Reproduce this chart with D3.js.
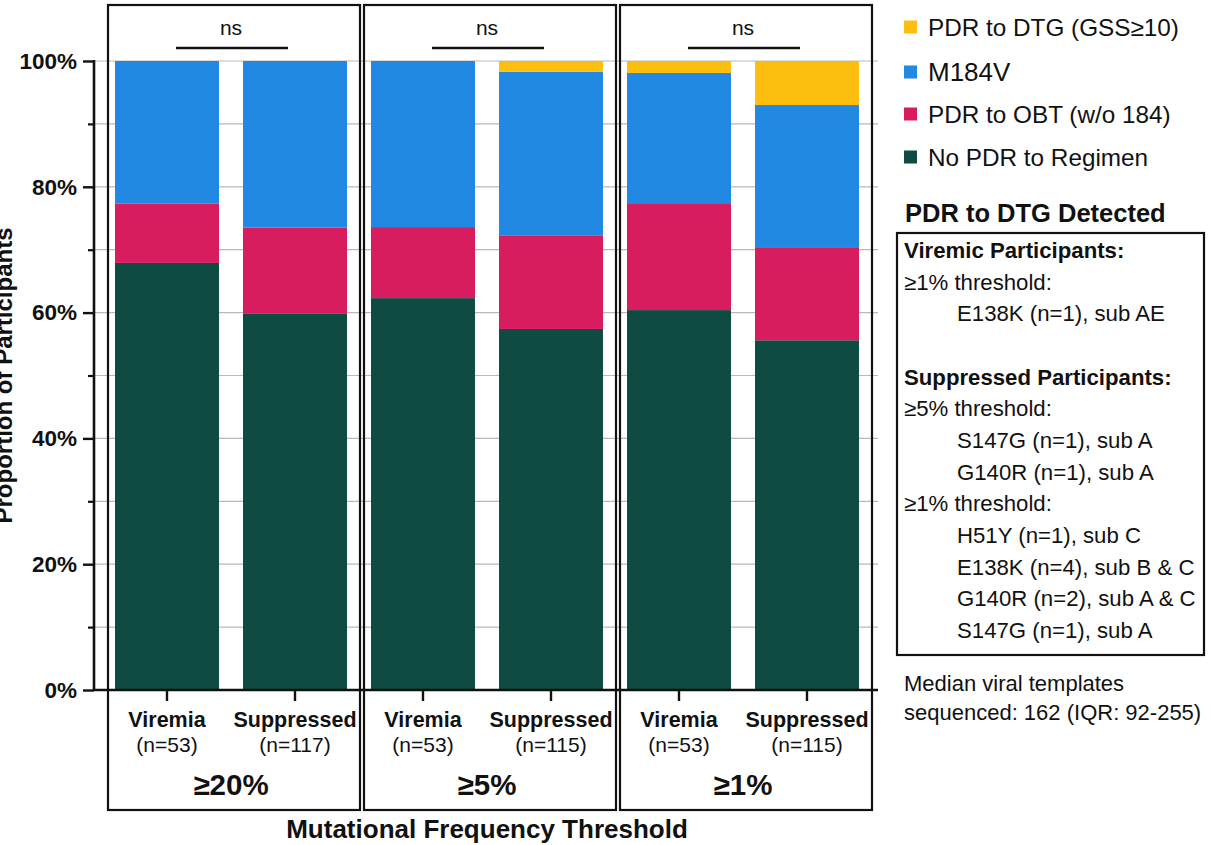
<!DOCTYPE html>
<html>
<head>
<meta charset="utf-8">
<script src="https://cdn.jsdelivr.net/npm/d3@7"></script>
<style>
  html, body { margin: 0; padding: 0; background: #fff; }
  svg { display: block; font-family: "Liberation Sans", Arial, Helvetica, sans-serif; }
</style>
</head>
<body>
<svg id="chart" width="1211" height="845"></svg>
<script>
// Bars: one per participant group within each mutational frequency threshold
const barIds = ["v20", "s20", "v5", "s5", "v1", "s1"];
const statusLabels = ["Viremia", "Suppressed", "Viremia", "Suppressed", "Viremia", "Suppressed"];
const sampleSizes = [53, 117, 53, 115, 53, 115];
const thresholds = ["≥20%", "≥5%", "≥1%"];
const significance = ["ns", "ns", "ns"];

// Percent of participants in each resistance category (stacked bottom → top)
const noPdr  = [67.9, 59.8, 62.3, 57.4, 60.4, 55.6];
const pdrObt = [ 9.4, 13.7, 11.3, 14.8, 17.0, 14.8];
const m184v  = [22.7, 26.5, 26.4, 26.1, 20.7, 22.6];
const pdrDtg = [ 0.0,  0.0,  0.0,  1.7,  1.9,  7.0];

const seriesKeys   = ["noPdr", "pdrObt", "m184v", "pdrDtg"];
const seriesNames  = ["No PDR to Regimen", "PDR to OBT (w/o 184)", "M184V", "PDR to DTG (GSS≥10)"];
const seriesColors = ["#0e4c41", "#d81c60", "#2189e2", "#fdbe10"];

const yTicks = [0, 20, 40, 60, 80, 100];
const yMinorTicks = [10, 30, 50, 70, 90];

// Table of DTG resistance mutations listed beside the chart
const dtgLines = [
  { text: "Viremic Participants:", bold: true, indent: false },
  { text: "≥1% threshold:", bold: false, indent: false },
  { text: "E138K (n=1), sub AE", bold: false, indent: true },
  { text: "", bold: false, indent: false },
  { text: "Suppressed Participants:", bold: true, indent: false },
  { text: "≥5% threshold:", bold: false, indent: false },
  { text: "S147G (n=1), sub A", bold: false, indent: true },
  { text: "G140R (n=1), sub A", bold: false, indent: true },
  { text: "≥1% threshold:", bold: false, indent: false },
  { text: "H51Y (n=1), sub C", bold: false, indent: true },
  { text: "E138K (n=4), sub B & C", bold: false, indent: true },
  { text: "G140R (n=2), sub A & C", bold: false, indent: true },
  { text: "S147G (n=1), sub A", bold: false, indent: true }
];
const footnote = ["Median viral templates", "sequenced: 162 (IQR: 92-255)"];

// ---- build table for the stack layout ----
const rows = barIds.map((id, i) => ({
  id, noPdr: noPdr[i], pdrObt: pdrObt[i], m184v: m184v[i], pdrDtg: pdrDtg[i]
}));
const stacked = d3.stack().keys(seriesKeys)(rows);

const svg = d3.select("#chart");

const x = d3.scaleBand().domain(barIds).range([103, 871])
  .paddingInner(0.1875).paddingOuter(0.09375);
const y = d3.scaleLinear().domain([0, 100]).range([690, 61]);
const axisLeftX = 94;
const boxTop = 5, boxBottom = 810;

// grid lines every 10%
svg.append("g")
  .selectAll("line")
  .data(d3.range(10, 101, 10))
  .join("line")
  .attr("x1", axisLeftX).attr("x2", 878)
  .attr("y1", d => y(d)).attr("y2", d => y(d))
  .attr("stroke", "#b9b9b9").attr("stroke-width", 1.2);

// stacked bars
svg.append("g")
  .selectAll("g")
  .data(stacked)
  .join("g")
  .attr("fill", (d, i) => seriesColors[i])
  .selectAll("rect")
  .data(d => d)
  .join("rect")
  .attr("x", d => x(d.data.id))
  .attr("width", x.bandwidth())
  .attr("y", d => y(d[1]))
  .attr("height", d => Math.max(0, y(d[0]) - y(d[1])));

// panel frames, one per threshold
const panelCenter = k => (x(barIds[2 * k]) + x(barIds[2 * k + 1]) + x.bandwidth()) / 2;
thresholds.forEach((t, k) => {
  const left = x(barIds[2 * k]) - 7;
  const right = x(barIds[2 * k + 1]) + x.bandwidth() + 13;
  svg.append("rect")
    .attr("x", left).attr("y", boxTop)
    .attr("width", right - left).attr("height", boxBottom - boxTop)
    .attr("fill", "none").attr("stroke", "#111").attr("stroke-width", 2.2);
});

// y axis
const yAxis = svg.append("g")
  .attr("transform", `translate(${axisLeftX},0)`)
  .call(d3.axisLeft(y).tickValues(yTicks).tickSize(11).tickPadding(6).tickFormat(d => d + "%"));
yAxis.select(".domain").remove();
yAxis.selectAll(".tick line").attr("stroke", "#111").attr("stroke-width", 2.4);
yAxis.selectAll(".tick text")
  .attr("font-size", 22.5).attr("font-weight", "bold").attr("fill", "#111")
  .attr("font-family", "'Liberation Sans', Arial, sans-serif");

const yMinor = svg.append("g")
  .attr("transform", `translate(${axisLeftX},0)`)
  .call(d3.axisLeft(y).tickValues(yMinorTicks).tickSize(6).tickFormat(""));
yMinor.select(".domain").remove();
yMinor.selectAll(".tick line").attr("stroke", "#111").attr("stroke-width", 2.2);

svg.append("line")
  .attr("x1", axisLeftX).attr("x2", axisLeftX)
  .attr("y1", y(100) - 1).attr("y2", y(0))
  .attr("stroke", "#111").attr("stroke-width", 2.6);

// x axis
const xAxis = svg.append("g")
  .attr("transform", `translate(0,${y(0)})`)
  .call(d3.axisBottom(x).tickSize(11).tickSizeOuter(0).tickFormat(""));
xAxis.select(".domain").remove();
xAxis.selectAll(".tick line").attr("stroke", "#111").attr("stroke-width", 2.4);
svg.append("line")
  .attr("x1", axisLeftX - 1).attr("x2", 878)
  .attr("y1", y(0)).attr("y2", y(0))
  .attr("stroke", "#111").attr("stroke-width", 2.6);

// category labels under each bar
const catG = svg.append("g").attr("text-anchor", "middle").attr("fill", "#111");
catG.selectAll("text.status")
  .data(barIds)
  .join("text")
  .attr("class", "status")
  .attr("x", d => x(d) + x.bandwidth() / 2)
  .attr("y", 727)
  .attr("font-size", 21.5).attr("font-weight", "bold")
  .text((d, i) => statusLabels[i]);
catG.selectAll("text.n")
  .data(barIds)
  .join("text")
  .attr("class", "n")
  .attr("x", d => x(d) + x.bandwidth() / 2)
  .attr("y", 752)
  .attr("font-size", 21)
  .text((d, i) => `(n=${sampleSizes[i]})`);

// threshold labels
catG.selectAll("text.thr")
  .data(thresholds)
  .join("text")
  .attr("class", "thr")
  .attr("x", (d, k) => panelCenter(k))
  .attr("y", 795)
  .attr("font-size", 29.5).attr("font-weight", "bold")
  .text(d => d);

// significance brackets
thresholds.forEach((t, k) => {
  const c1 = x(barIds[2 * k]) + x.bandwidth() / 2;
  const c2 = x(barIds[2 * k + 1]) + x.bandwidth() / 2;
  svg.append("line")
    .attr("x1", c1 + 9).attr("x2", c2 - 7)
    .attr("y1", 48).attr("y2", 48)
    .attr("stroke", "#111").attr("stroke-width", 2.6);
  svg.append("text")
    .attr("x", panelCenter(k)).attr("y", 35)
    .attr("text-anchor", "middle").attr("font-size", 21).attr("fill", "#111")
    .text(significance[k]);
});

// axis titles
svg.append("text")
  .attr("x", (x.range()[0] + x.range()[1]) / 2).attr("y", 838)
  .attr("text-anchor", "middle").attr("font-size", 26).attr("font-weight", "bold").attr("fill", "#111")
  .text("Mutational Frequency Threshold");
svg.append("text")
  .attr("transform", `translate(12,${(y(0) + y(100)) / 2}) rotate(-90)`)
  .attr("text-anchor", "middle").attr("font-size", 24).attr("font-weight", "bold").attr("fill", "#111")
  .text("Proportion of Participants");

// legend (top entry first)
const legendOrder = [3, 2, 1, 0];
const legendY = [27, 72, 114, 157];
const legend = svg.append("g");
legendOrder.forEach((si, j) => {
  legend.append("rect")
    .attr("x", 904).attr("y", legendY[j] - 6.5)
    .attr("width", 13).attr("height", 13)
    .attr("fill", seriesColors[si]);
  legend.append("text")
    .attr("x", 928).attr("y", legendY[j] + 8.5)
    .attr("font-size", si === 2 ? 26 : 24.3).attr("fill", "#111")
    .text(seriesNames[si]);
});

// DTG detections panel
svg.append("text")
  .attr("x", 905).attr("y", 222)
  .attr("font-size", 25.5).attr("font-weight", "bold").attr("fill", "#111")
  .text("PDR to DTG Detected");
svg.append("rect")
  .attr("x", 897).attr("y", 233).attr("width", 307).attr("height", 422)
  .attr("fill", "none").attr("stroke", "#111").attr("stroke-width", 2.2);
svg.append("g")
  .selectAll("text")
  .data(dtgLines)
  .join("text")
  .attr("x", d => d.indent ? 957 : 904)
  .attr("y", (d, i) => 258 + i * 31.67)
  .attr("font-size", 22.2)
  .attr("font-weight", d => d.bold ? "bold" : "normal")
  .attr("fill", "#111")
  .text(d => d.text);

svg.append("g")
  .selectAll("text")
  .data(footnote)
  .join("text")
  .attr("x", 904)
  .attr("y", (d, i) => 691 + i * 29)
  .attr("font-size", 22).attr("fill", "#111")
  .text(d => d);
</script>
</body>
</html>
